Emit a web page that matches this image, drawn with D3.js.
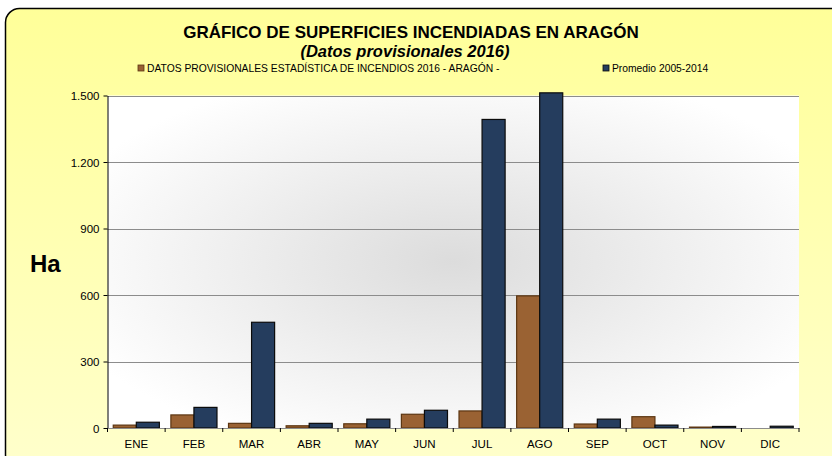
<!DOCTYPE html>
<html>
<head>
<meta charset="utf-8">
<script src="https://cdn.jsdelivr.net/npm/d3@7"></script>
<style>
  body { margin: 0; background: #fff; }
  text { font-family: "Liberation Sans", Arial, sans-serif; }
</style>
</head>
<body>
<div id="chart"></div>
<script>
// data
const months = ["ENE", "FEB", "MAR", "ABR", "MAY", "JUN", "JUL", "AGO", "SEP", "OCT", "NOV", "DIC"];
const datos2016 = [13, 59, 21, 10, 19, 62, 77, 596, 18, 51, 4, 0];
const promedio = [26, 93, 477, 21, 40, 80, 1392, 1512, 40, 13, 7, 8];
const seriesNames = ["DATOS PROVISIONALES ESTADÍSTICA DE INCENDIOS 2016 - ARAGÓN -", "Promedio 2005-2014"];
const yTicks = [0, 300, 600, 900, 1200, 1500];

const width = 832;
const height = 456;
const marginTop = 95.5;
const marginRight = 33;
const marginBottom = 28;
const marginLeft = 107.5;

const svg = d3
  .select("#chart")
  .append("svg")
  .attr("width", width)
  .attr("height", height)
  .attr("viewBox", [0, 0, width, height]);

const defs = svg.append("defs");
const bgGrad = defs.append("linearGradient").attr("id", "bgGrad")
  .attr("x1", 0).attr("y1", 0).attr("x2", 0).attr("y2", 1);
bgGrad.append("stop").attr("offset", "0%").attr("stop-color", "#ffff99");
bgGrad.append("stop").attr("offset", "100%").attr("stop-color", "#ffffcc");

const plotGrad = defs.append("radialGradient").attr("id", "plotGrad")
  .attr("cx", 0.5).attr("cy", 0.5).attr("r", 0.6);
plotGrad.append("stop").attr("offset", "0%").attr("stop-color", "#dcdcdc");
plotGrad.append("stop").attr("offset", "100%").attr("stop-color", "#ffffff");

// outer frame
svg.append("rect")
  .attr("x", 5.5).attr("y", 8.5)
  .attr("width", 840).attr("height", 460)
  .attr("rx", 14)
  .attr("fill", "url(#bgGrad)")
  .attr("stroke", "#000")
  .attr("stroke-width", 1.5);

const x0 = d3.scaleBand()
  .domain(months)
  .range([marginLeft, width - marginRight])
  .paddingInner(0.2)
  .paddingOuter(0.1);

const x1 = d3.scaleBand()
  .domain([0, 1])
  .range([0, x0.bandwidth()]);

const y = d3.scaleLinear()
  .domain([0, 1500])
  .range([height - marginBottom, marginTop]);

// plot area
svg.append("rect")
  .attr("x", marginLeft).attr("y", marginTop)
  .attr("width", width - marginRight - marginLeft)
  .attr("height", height - marginBottom - marginTop)
  .attr("fill", "url(#plotGrad)");

// gridlines
svg.append("g")
  .selectAll("line")
  .data(yTicks)
  .join("line")
  .attr("x1", marginLeft).attr("x2", width - marginRight)
  .attr("y1", (d) => Math.round(y(d)) + 0.5)
  .attr("y2", (d) => Math.round(y(d)) + 0.5)
  .attr("stroke", "#8c8c8c")
  .attr("stroke-width", 1);

// bars
const colors = ["#9a6233", "#253d5e"];
const strokes = ["#5c3612", "#0b0b0b"];
const series = [datos2016, promedio];

series.forEach(function (vals, s) {
  svg.append("g")
    .selectAll("rect")
    .data(vals)
    .join("rect")
    .attr("x", (d, i) => x0(months[i]) + x1(s))
    .attr("width", x1.bandwidth())
    .attr("y", (d) => y(d))
    .attr("height", (d) => y(0) - y(d))
    .attr("fill", colors[s])
    .attr("stroke", (d) => (d > 0 ? strokes[s] : "none"))
    .attr("stroke-width", 1.2);
});

// y axis
const yAxis = svg.append("g")
  .attr("transform", `translate(${marginLeft},0)`)
  .call(d3.axisLeft(y).tickValues(yTicks).tickSize(4).tickSizeOuter(0)
    .tickFormat((d) => d3.format(",")(d).replace(",", ".")));
yAxis.select(".domain").attr("stroke", "#000");
yAxis.selectAll(".tick line").attr("stroke", "#000");
yAxis.selectAll("text").attr("font-size", 11.5).attr("fill", "#000")
  .attr("x", -8).attr("dy", "0.35em");

// x axis
const xAxis = svg.append("g")
  .attr("transform", `translate(0,${y(0)})`)
  .call(d3.axisBottom(x0).tickSize(0).tickSizeOuter(0));
xAxis.select(".domain").attr("stroke", "#8c8c8c");
xAxis.selectAll("text").attr("font-size", 11.5).attr("fill", "#000").attr("dy", "1.45em");

// category boundary ticks
const step = x0.step();
svg.append("g")
  .selectAll("line")
  .data(d3.range(months.length + 1))
  .join("line")
  .attr("x1", (d) => marginLeft + d * step)
  .attr("x2", (d) => marginLeft + d * step)
  .attr("y1", y(0)).attr("y2", y(0) + 4)
  .attr("stroke", "#000");

// titles
svg.append("text")
  .attr("x", 411).attr("y", 38)
  .attr("text-anchor", "middle")
  .attr("font-size", 17).attr("font-weight", "bold")
  .text("GRÁFICO DE SUPERFICIES INCENDIADAS EN ARAGÓN");

svg.append("text")
  .attr("x", 405).attr("y", 57)
  .attr("text-anchor", "middle")
  .attr("font-size", 16.5).attr("font-weight", "bold").attr("font-style", "italic")
  .text("(Datos provisionales 2016)");

// legend
const legendX = [138, 603];
seriesNames.forEach(function (name, s) {
  svg.append("rect")
    .attr("x", legendX[s]).attr("y", 65)
    .attr("width", 6).attr("height", 6)
    .attr("fill", colors[s])
    .attr("stroke", strokes[s]).attr("stroke-width", 0.8);
  svg.append("text")
    .attr("x", legendX[s] + 9).attr("y", 72)
    .attr("font-size", 10.3)
    .text(name);
});

// y axis title
svg.append("text")
  .attr("x", 30).attr("y", 272)
  .attr("font-size", 24).attr("font-weight", "bold")
  .text("Ha");
</script>
</body>
</html>
